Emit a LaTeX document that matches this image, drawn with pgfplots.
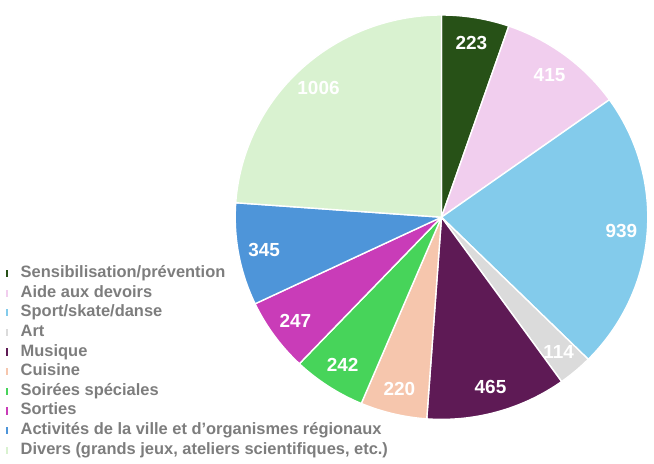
\documentclass[border=0pt]{standalone}
\usepackage{pgfplots}
\pgfplotsset{compat=1.18}
\usepackage{fontspec}
\setmainfont{Liberation Sans}
\definecolor{cA}{RGB}{39,81,23}
\definecolor{cB}{RGB}{241,206,238}
\definecolor{cC}{RGB}{131,203,235}
\definecolor{cD}{RGB}{219,219,219}
\definecolor{cE}{RGB}{94,26,85}
\definecolor{cF}{RGB}{246,198,173}
\definecolor{cG}{RGB}{71,212,90}
\definecolor{cH}{RGB}{201,60,184}
\definecolor{cI}{RGB}{78,149,217}
\definecolor{cJ}{RGB}{217,242,208}
\definecolor{legtext}{RGB}{125,125,125}
\def\total{4216}
% #1 colour, #2 cumulative value before the slice, #3 value, #4 legend text
\newcommand{\slice}[4]{%
  \addplot[fill=#1, draw=white, line width=1.4bp, line join=round,
    domain={90-360*(#2+#3)/\total}:{90-360*(#2)/\total}, samples=90]
    ({cos(x)},{sin(x)}) -- (0,0) -- cycle;
  \addlegendentry{#4}
  \node[font=\fontsize{19}{22}\selectfont\bfseries, text=white, inner sep=0pt]
    at (axis cs:{0.875*cos(90-360*(#2+#3/2)/\total)},{0.875*sin(90-360*(#2+#3/2)/\total)}) {#3};
}
\begin{document}
\begin{tikzpicture}
\begin{axis}[
  scale only axis, width=654bp, height=464bp,
  xmin=-2.1401, xmax=1.0301, ymin=-1.2206, ymax=1.0742,
  hide axis, clip=false,
  legend cell align=left,
  legend image code/.code={\fill[#1, draw=none] (0bp,-3.6bp) rectangle (2.2bp,3.6bp);},
  legend style={at={(rel axis cs:0.0092,0.4267)}, anchor=north west,
    draw=none, fill=none, inner sep=0pt, outer sep=0pt,
    row sep=4.63bp, column sep=0pt,
    font=\fontsize{16.5}{19}\selectfont\bfseries,
    text=legtext,
    nodes={inner sep=0pt, outer sep=0pt, text height=11.5bp, text depth=3.5bp},
    /tikz/every odd column/.append style={column sep=12.5bp},
  },
]
\path (rel axis cs:0,0) (rel axis cs:1,1);
\slice{cA}{0}{223}{Sensibilisation/prévention}
\slice{cB}{223}{415}{Aide aux devoirs}
\slice{cC}{638}{939}{Sport/skate/danse}
\slice{cD}{1577}{114}{Art}
\slice{cE}{1691}{465}{Musique}
\slice{cF}{2156}{220}{Cuisine}
\slice{cG}{2376}{242}{Soirées spéciales}
\slice{cH}{2618}{247}{Sorties}
\slice{cI}{2865}{345}{Activités de la ville et d'organismes régionaux}
\slice{cJ}{3210}{1006}{Divers (grands jeux, ateliers scientifiques, etc.)}
\end{axis}
\end{tikzpicture}
\end{document}
